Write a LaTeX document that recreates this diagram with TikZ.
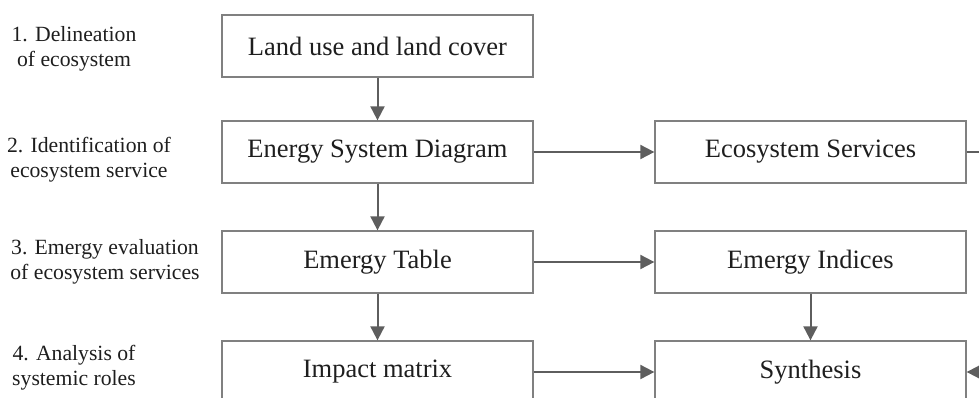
\documentclass[tikz,border=0pt]{standalone}
\usepackage{fontspec}
\setmainfont{Liberation Serif}
\usetikzlibrary{arrows.meta}
\definecolor{boxgray}{HTML}{808080}
\definecolor{arrowgray}{HTML}{5E5E5E}
\definecolor{textblack}{HTML}{1E1E1E}
\tikzstyle{stagebox}=[draw=boxgray,line width=1.3pt,minimum width=311pt,minimum height=62pt,inner sep=0pt,font=\fontsize{26.5}{30}\selectfont,text=textblack]
\tikzstyle{stagelabel}=[align=center,inner sep=0pt,font=\fontsize{21.7}{25}\selectfont,text=textblack]
\tikzstyle{flow}=[draw=arrowgray,line width=2pt,-{Triangle[length=14pt,width=14pt]}]

\begin{document}
\begin{tikzpicture}[x=1pt,y=-1pt]
\useasboundingbox (0,0) rectangle (979,397);
\clip (0,0) rectangle (979,397);
\node[stagelabel] (step1) at (74,49) {1. Delineation\\of ecosystem};
\node[stagelabel] (step2) at (89,160) {2. Identification of\\ecosystem service};
\node[stagelabel] (step3) at (105,262) {3. Emergy evaluation\\of ecosystem services};
\node[stagelabel] (step4) at (74,368) {4. Analysis of\\systemic roles};
\node[stagebox] (land) at (377.5,46) {Land use and land cover};
\node[stagebox] (esd) at (377.5,152) {Energy System Diagram};
\node[stagebox] (table) at (377.5,262) {Emergy Table};
\node[stagebox] (impact) at (377.5,372) {Impact matrix};
\node[stagebox] (ecoserv) at (810.5,152) {Ecosystem Services};
\node[stagebox] (indices) at (810.5,262) {Emergy Indices};
\node[stagebox] (synth) at (810.5,372) {Synthesis};
\coordinate (loop) at (1000,152);
\draw[flow] (land) -- (esd);
\draw[flow] (esd) -- (table);
\draw[flow] (table) -- (impact);
\draw[flow] (esd) -- (ecoserv);
\draw[flow] (table) -- (indices);
\draw[flow] (impact) -- (synth);
\draw[flow] (indices) -- (synth);
\draw[flow] (ecoserv.east) -- (loop) |- (synth.east);
\end{tikzpicture}
\end{document}
